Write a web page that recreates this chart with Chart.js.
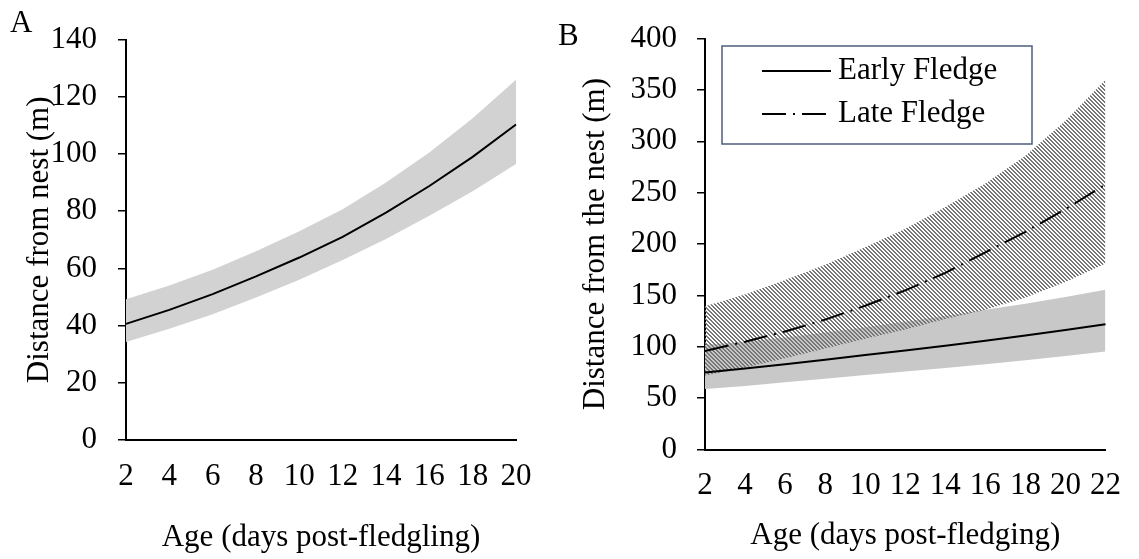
<!DOCTYPE html>
<html>
<head>
<meta charset="utf-8">
<title>Distance from nest by age</title>
<script src="https://cdn.jsdelivr.net/npm/chart.js@4.4.1/dist/chart.umd.min.js"></script>
<style>
  html, body { margin: 0; padding: 0; background: #fff; }
  #wrap { position: relative; width: 1139px; height: 559px; }
  .panel { position: absolute; top: 0; height: 559px; }
  #panelA { left: 0; width: 550px; }
  #panelB { left: 550px; width: 589px; }
</style>
</head>
<body>
<div id="wrap">
  <div class="panel" id="panelA"><canvas id="chartA"></canvas></div>
  <div class="panel" id="panelB"><canvas id="chartB"></canvas></div>
</div>
<script>
// Panel A - all fledglings
const ageA = [2, 4, 6, 8, 10, 12, 14, 16, 18, 20];
const distA = [40.6, 45.5, 51.0, 57.2, 63.8, 71.0, 79.5, 88.8, 99.0, 110.3];
const upperA = [49.2, 54.0, 59.5, 66.0, 73.0, 80.7, 90.0, 100.5, 112.5, 126.0];
const lowerA = [34.3, 38.9, 44.0, 49.8, 56.0, 62.9, 70.3, 78.4, 87.0, 96.5];

// Panel B - early vs late fledge
const ageB = [2, 4, 6, 8, 10, 12, 14, 16, 18, 20, 22];
const earlyFledge = [75, 79, 83, 87.5, 92, 96.5, 101, 106, 111, 116.5, 122];
const earlyUpper = [102, 105, 109, 114, 119, 124.5, 130, 136, 142, 148.5, 155.5];
const earlyLower = [59, 62, 65.5, 69, 72.5, 76, 79.5, 83, 87, 91, 95.5];
const lateFledge = [96, 105, 115, 126.5, 140, 155, 172, 192, 212, 234, 258];
const lateUpper = [139.5, 151, 165, 180, 197, 215, 236, 259, 286, 320, 360];
const lateLower = [72, 80, 89, 98.5, 108, 117, 127, 136, 148, 163, 181];

const SERIF = '"Liberation Serif", "Times New Roman", serif';
Chart.defaults.font.family = SERIF;
Chart.defaults.font.size = 31;
Chart.defaults.color = '#000';

// diagonal "\" hatching, transparent between the stripes
function makeHatch(color) {
    const size = 4;
    const c = document.createElement('canvas');
    c.width = size;
    c.height = size;
    const g = c.getContext('2d');
    g.fillStyle = color;
    for (let y = 0; y < size; y++) {
        for (let x = 0; x < size; x++) {
            if (((x - y) % size + size) % size < 2) g.fillRect(x, y, 1, 1);
        }
    }
    return g.createPattern(c, 'repeat');
}

const panelLetter = {
    id: 'panelLetter',
    afterDraw(chart, args, opts) {
        const ctx = chart.ctx;
        ctx.save();
        ctx.font = '31px ' + SERIF;
        ctx.fillStyle = '#000';
        ctx.textBaseline = 'alphabetic';
        ctx.fillText(opts.text, opts.x, opts.y);
        ctx.restore();
    }
};

const boxLegend = {
    id: 'boxLegend',
    afterDraw(chart, args, opts) {
        if (!opts.display) return;
        const ctx = chart.ctx;
        const items = chart.data.datasets.filter(d => d.inLegend);
        ctx.save();
        ctx.fillStyle = '#fff';
        ctx.fillRect(opts.left, opts.top, opts.width, opts.height);
        ctx.strokeStyle = opts.borderColor;
        ctx.lineWidth = opts.borderWidth;
        ctx.strokeRect(opts.left, opts.top, opts.width, opts.height);
        ctx.font = '31px ' + SERIF;
        ctx.textBaseline = 'middle';
        items.forEach((d, i) => {
            const y = opts.firstRow + i * opts.rowGap;
            ctx.strokeStyle = d.borderColor;
            ctx.lineWidth = d.borderWidth;
            ctx.setLineDash(d.borderDash || []);
            ctx.beginPath();
            ctx.moveTo(opts.lineStart, y);
            ctx.lineTo(opts.lineStart + opts.lineLength, y);
            ctx.stroke();
            ctx.setLineDash([]);
            ctx.fillStyle = '#000';
            ctx.fillText(d.label, opts.textStart, y);
        });
        ctx.restore();
    }
};

function yAxis(max, step, width, labelPad, title, titlePad) {
    return {
        min: 0,
        max: max,
        afterFit: s => { s.width = width; },
        ticks: { stepSize: step, padding: labelPad },
        grid: { drawOnChartArea: false, drawTicks: true, tickLength: 8, color: '#000', lineWidth: 1.5 },
        border: { display: true, color: '#000', width: 2 },
        title: { display: true, text: title, padding: { top: titlePad, bottom: 0 } }
    };
}

function xAxis(height, title, titleBottom) {
    return {
        type: 'category',
        offset: false,
        afterFit: s => { s.height = height; },
        ticks: { padding: 18, autoSkip: false, maxRotation: 0 },
        grid: { display: false, drawTicks: false },
        border: { display: true, color: '#000', width: 2 },
        title: { display: true, text: title, padding: { top: 0, bottom: titleBottom } }
    };
}

const bandA = 'rgb(210, 210, 210)';
const bandB = 'rgb(200, 200, 200)';

new Chart(document.getElementById('chartA'), {
    type: 'line',
    data: {
        labels: ageA,
        datasets: [
            { label: 'Upper', data: upperA, fill: '+1', backgroundColor: bandA, borderWidth: 0, pointRadius: 0, order: 2 },
            { label: 'Lower', data: lowerA, fill: false, borderWidth: 0, pointRadius: 0, order: 3 },
            { label: 'Distance', data: distA, fill: false, borderColor: '#000', borderWidth: 2, pointRadius: 0, tension: 0, order: 0 }
        ]
    },
    options: {
        responsive: true,
        maintainAspectRatio: false,
        animation: false,
        layout: { padding: { top: 38.5, right: 34, bottom: 0, left: 0 } },
        plugins: {
            legend: { display: false },
            tooltip: { enabled: false },
            panelLetter: { text: 'A', x: 10, y: 32 }
        },
        scales: {
            x: xAxis(119, 'Age (days post-fledgling)', 3),
            y: yAxis(140, 20, 126, 21, 'Distance from nest (m)', 21)
        }
    },
    plugins: [panelLetter]
});

new Chart(document.getElementById('chartB'), {
    type: 'line',
    data: {
        labels: ageB,
        datasets: [
            { label: 'Early upper', data: earlyUpper, fill: '+1', backgroundColor: bandB, borderWidth: 0, pointRadius: 0, order: 5 },
            { label: 'Early lower', data: earlyLower, fill: false, borderWidth: 0, pointRadius: 0, order: 6 },
            { label: 'Late upper', data: lateUpper, fill: '+1', backgroundColor: makeHatch('rgb(118, 118, 118)'), borderWidth: 0, pointRadius: 0, order: 3 },
            { label: 'Late lower', data: lateLower, fill: false, borderWidth: 0, pointRadius: 0, order: 4 },
            { label: 'Early Fledge', inLegend: true, data: earlyFledge, fill: false, borderColor: '#000', borderWidth: 2, pointRadius: 0, tension: 0, order: 0 },
            { label: 'Late Fledge', inLegend: true, data: lateFledge, fill: false, borderColor: '#000', borderWidth: 2, borderDash: [24, 7, 2, 7], pointRadius: 0, tension: 0, order: 1 }
        ]
    },
    options: {
        responsive: true,
        maintainAspectRatio: false,
        animation: false,
        layout: { padding: { top: 31, right: 31, bottom: 0, left: 0 } },
        plugins: {
            legend: { display: false },
            tooltip: { enabled: false },
            panelLetter: { text: 'B', x: 8, y: 45 },
            boxLegend: {
                display: true,
                left: 172, top: 46, width: 310, height: 98,
                borderColor: '#4d5d7e', borderWidth: 1.5,
                firstRow: 71, rowGap: 43,
                lineStart: 212, lineLength: 69, textStart: 288
            }
        },
        scales: {
            x: xAxis(109.4, 'Age (days post-fledging)', 5),
            y: yAxis(400, 50, 155, 20, 'Distance from the nest (m)', 27)
        }
    },
    plugins: [panelLetter, boxLegend]
});
</script>
</body>
</html>
